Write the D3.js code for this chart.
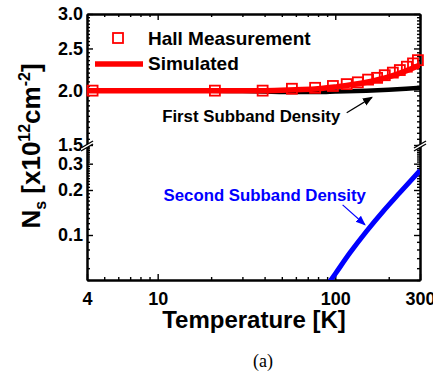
<!DOCTYPE html>
<html>
<head>
<meta charset="utf-8">
<script src="https://cdn.jsdelivr.net/npm/d3@7"></script>
<style>
body{margin:0;background:#fff;}
svg{display:block;font-family:Arial,"Liberation Sans",sans-serif;}
.axis text{font-size:18px;font-weight:bold;fill:#000;font-family:Arial,"Liberation Sans",sans-serif;}
.axis line{stroke:#000;stroke-width:1.4px;}
.axis path{stroke:#000;stroke-width:2px;}
</style>
</head>
<body>
<svg></svg>
<script>
// measured hall density
var hallTemp = [4.3, 21, 39, 57, 77, 97, 116, 134, 153, 172, 190, 211, 231, 253, 274, 292];
var hallNs = [2.0, 2.0, 2.0, 2.02, 2.03, 2.05, 2.07, 2.09, 2.12, 2.14, 2.17, 2.2, 2.23, 2.27, 2.31, 2.35];

// simulated total
var simTemp = [4, 10, 20, 40, 60, 80, 100, 150, 200, 250, 300];
var simNs = [2.0, 2.0, 2.0, 2.0, 2.01, 2.02, 2.04, 2.09, 2.15, 2.22, 2.29];

// first subband
var firstTemp = [4, 10, 20, 30, 40, 60, 80, 100, 150, 200, 250, 300];
var firstNs = [2.0, 2.0, 2.0, 1.995, 1.99, 1.985, 1.985, 1.99, 2.0, 2.01, 2.02, 2.03];

// second subband
var secondTemp = [90, 100, 121, 150, 186, 231, 300];
var secondNs = [0.046, 0.055, 0.076, 0.106, 0.144, 0.192, 0.27];

var xTicks = [4, 10, 100, 300];
var xMinor = [5, 6, 7, 8, 9, 20, 30, 40, 50, 60, 70, 80, 90, 200];
var yTopTicks = [1.5, 2.0, 2.5, 3.0];
var yBotTicks = [0.1, 0.2, 0.3];

var svg = d3.select("svg")
            .attr("width",433)
            .attr("height",380);

var plot = {left:87, right:420, top:14, bottom:280, brk:145};

var x = d3.scaleLog().domain([4,300]).range([plot.left,plot.right]);
var yTop = d3.scaleLog().domain([1.5,3.0]).range([plot.brk,plot.top]);
var yBot = d3.scaleLog().domain([0.05,0.4]).range([plot.bottom,plot.brk]);

var topMinor = d3.range(1.55,3.0,0.05).filter(function(d){
  return yTopTicks.every(function(t){return Math.abs(t-d)>0.001;});
});
var botMinor = d3.range(0.05,0.4001,0.01).filter(function(d){
  return yBotTicks.every(function(t){return Math.abs(t-d)>0.001;});
});

var defs = svg.append("defs");
defs.append("clipPath").attr("id","clipTop")
  .append("rect").attr("x",plot.left).attr("y",plot.top)
  .attr("width",plot.right-plot.left).attr("height",plot.brk-plot.top);
defs.append("clipPath").attr("id","clipBot")
  .append("rect").attr("x",plot.left).attr("y",plot.brk)
  .attr("width",plot.right-plot.left).attr("height",plot.bottom-plot.brk);

["black","blue"].forEach(function(c){
  defs.append("marker")
    .attr("id","arrow-"+c)
    .attr("viewBox","0 0 10 10")
    .attr("refX",9).attr("refY",5)
    .attr("markerUnits","userSpaceOnUse")
    .attr("markerWidth",10).attr("markerHeight",10)
    .attr("orient","auto")
    .append("path")
    .attr("d","M0,1L10,5L0,9Z")
    .attr("fill",c);
});

var zip = function(ts,vs){
  return ts.map(function(t,i){return {t:t,v:vs[i]};});
};

// axes
var addAxis = function(axis,tx,ty){
  return svg.append("g").classed("axis",true)
    .attr("transform","translate("+tx+","+ty+")")
    .call(axis);
};

addAxis(d3.axisLeft(yTop).tickValues(yTopTicks).tickSize(-6).tickSizeOuter(0)
  .tickPadding(4).tickFormat(d3.format(".1f")),plot.left,0);
addAxis(d3.axisLeft(yTop).tickValues(topMinor).tickSize(-3).tickSizeOuter(0)
  .tickFormat(""),plot.left,0);
addAxis(d3.axisLeft(yBot).tickValues(yBotTicks).tickSize(-6).tickSizeOuter(0)
  .tickPadding(4).tickFormat(d3.format(".1f")),plot.left,0);
addAxis(d3.axisLeft(yBot).tickValues(botMinor).tickSize(-3).tickSizeOuter(0)
  .tickFormat(""),plot.left,0);

addAxis(d3.axisRight(yTop).tickValues(yTopTicks).tickSize(-6).tickSizeOuter(0)
  .tickFormat(""),plot.right,0);
addAxis(d3.axisRight(yTop).tickValues(topMinor).tickSize(-3).tickSizeOuter(0)
  .tickFormat(""),plot.right,0);
addAxis(d3.axisRight(yBot).tickValues(yBotTicks).tickSize(-6).tickSizeOuter(0)
  .tickFormat(""),plot.right,0);
addAxis(d3.axisRight(yBot).tickValues(botMinor).tickSize(-3).tickSizeOuter(0)
  .tickFormat(""),plot.right,0);

addAxis(d3.axisBottom(x).tickValues(xTicks).tickSize(-6).tickSizeOuter(0)
  .tickPadding(12).tickFormat(d3.format("d")),0,plot.bottom);
addAxis(d3.axisBottom(x).tickValues(xMinor).tickSize(-3).tickSizeOuter(0)
  .tickFormat(""),0,plot.bottom);
addAxis(d3.axisTop(x).tickValues(xTicks).tickSize(-6).tickSizeOuter(0)
  .tickFormat(""),0,plot.top);
addAxis(d3.axisTop(x).tickValues(xMinor).tickSize(-3).tickSizeOuter(0)
  .tickFormat(""),0,plot.top);

// axis breaks
[plot.left,plot.right].forEach(function(bx){
  var g = svg.append("g");
  g.append("path")
    .attr("d","M"+(bx-6)+","+(plot.brk+3)+"L"+(bx+6)+","+(plot.brk-4)
      +"L"+(bx+6)+","+(plot.brk-1)+"L"+(bx-6)+","+(plot.brk+6)+"Z")
    .attr("fill","#fff");
  [0,3].forEach(function(o){
    g.append("line")
      .attr("x1",bx-6).attr("y1",plot.brk+3+o)
      .attr("x2",bx+6).attr("y2",plot.brk-4+o)
      .attr("stroke","#000").attr("stroke-width",1.4);
  });
});

// lines
var lineTop = d3.line()
  .x(function(d){return x(d.t);})
  .y(function(d){return yTop(d.v);})
  .curve(d3.curveMonotoneX);
var lineBot = d3.line()
  .x(function(d){return x(d.t);})
  .y(function(d){return yBot(d.v);})
  .curve(d3.curveMonotoneX);

svg.append("path")
  .datum(zip(firstTemp,firstNs))
  .attr("clip-path","url(#clipTop)")
  .attr("d",lineTop)
  .attr("fill","none")
  .attr("stroke","#000")
  .attr("stroke-width",4.5);

svg.append("path")
  .datum(zip(simTemp,simNs))
  .attr("clip-path","url(#clipTop)")
  .attr("d",lineTop)
  .attr("fill","none")
  .attr("stroke","#ff0000")
  .attr("stroke-width",5.5);

svg.append("g")
  .selectAll("rect")
  .data(zip(hallTemp,hallNs))
  .enter()
  .append("rect")
  .attr("x",function(d){return x(d.t)-5;})
  .attr("y",function(d){return yTop(d.v)-5;})
  .attr("width",10)
  .attr("height",10)
  .attr("fill","none")
  .attr("stroke","#ff0000")
  .attr("stroke-width",1.8);

svg.append("path")
  .datum(zip(secondTemp,secondNs))
  .attr("clip-path","url(#clipBot)")
  .attr("d",lineBot)
  .attr("fill","none")
  .attr("stroke","#0000ff")
  .attr("stroke-width",5);

// annotations
svg.append("text")
  .attr("x",x(10.6)).attr("y",yTop(1.69))
  .attr("font-size",16.8).attr("font-weight","bold")
  .attr("fill","#000")
  .text("First Subband Density");
svg.append("line")
  .attr("x1",x(116)).attr("y1",yTop(1.78))
  .attr("x2",x(161)).attr("y2",yTop(1.93))
  .attr("stroke","#000").attr("stroke-width",1.2)
  .attr("marker-end","url(#arrow-black)");

svg.append("text")
  .attr("x",x(10.8)).attr("y",yBot(0.169))
  .attr("font-size",16.8).attr("font-weight","bold")
  .attr("fill","#0000ff")
  .text("Second Subband Density");
svg.append("line")
  .attr("x1",x(110)).attr("y1",yBot(0.159))
  .attr("x2",x(147)).attr("y2",yBot(0.117))
  .attr("stroke","#0000ff").attr("stroke-width",1.2)
  .attr("marker-end","url(#arrow-blue)");

// legend
var legend = svg.append("g").classed("legend",true);
legend.append("rect")
  .attr("x",113).attr("y",33)
  .attr("width",10).attr("height",10)
  .attr("fill","none").attr("stroke","#ff0000").attr("stroke-width",1.8);
legend.append("text")
  .attr("x",148).attr("y",45)
  .attr("font-size",19).attr("font-weight","bold")
  .text("Hall Measurement");
legend.append("line")
  .attr("x1",95).attr("x2",143)
  .attr("y1",64).attr("y2",64)
  .attr("stroke","#ff0000").attr("stroke-width",5.5);
legend.append("text")
  .attr("x",148).attr("y",70)
  .attr("font-size",19).attr("font-weight","bold")
  .text("Simulated");

// axis titles
svg.append("text")
  .attr("x",254).attr("y",328)
  .attr("text-anchor","middle")
  .attr("font-size",24).attr("font-weight","bold")
  .text("Temperature [K]");

var yTitle = svg.append("text")
  .attr("transform","translate(40,146) rotate(-90)")
  .attr("text-anchor","middle")
  .attr("font-size",26).attr("font-weight","bold");
yTitle.append("tspan").text("N");
yTitle.append("tspan").attr("font-size",16).attr("dy",6).text("s");
yTitle.append("tspan").attr("dy",-6).text(" [x10");
yTitle.append("tspan").attr("font-size",16).attr("dy",-10).text("12");
yTitle.append("tspan").attr("dy",10).text("cm");
yTitle.append("tspan").attr("font-size",16).attr("dy",-10).text("-2");
yTitle.append("tspan").attr("dy",10).text("]");

svg.append("text")
  .attr("x",263).attr("y",367)
  .attr("text-anchor","middle")
  .attr("font-size",18)
  .attr("font-family","'Times New Roman','Liberation Serif',serif")
  .text("(a)");
</script>
</body>
</html>
